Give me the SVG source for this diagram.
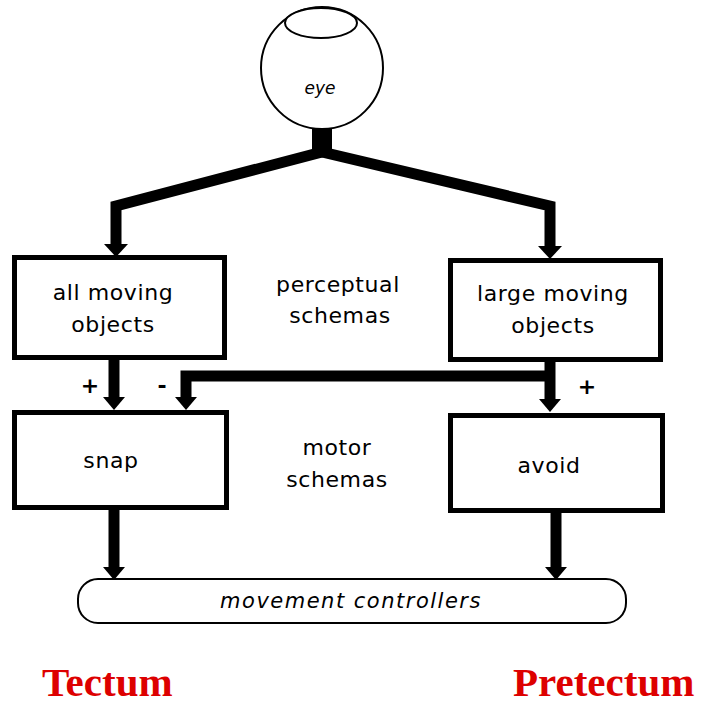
<svg xmlns="http://www.w3.org/2000/svg" width="702" height="705" viewBox="0 0 702 705">
  <style>
    .box { fill: #ffffff; stroke: #000000; stroke-width: 5; }
    .wire { fill: none; stroke: #000000; stroke-width: 11; stroke-linejoin: miter; }
    .head { fill: #000000; stroke: none; }
    .label { font-family: "DejaVu Sans", "Liberation Sans", sans-serif; font-size: 22px; fill: #000000; text-anchor: middle; letter-spacing: 0.6px; }
    .ital { font-family: "DejaVu Sans", "Liberation Sans", sans-serif; font-style: italic; fill: #000000; text-anchor: middle; }
    .sign { font-family: "DejaVu Sans", "Liberation Sans", sans-serif; font-size: 22px; font-weight: bold; fill: #000000; text-anchor: middle; }
    .region { font-family: "Liberation Serif", "Times New Roman", serif; font-size: 41px; font-weight: bold; fill: #dd0000; }
  </style>

  <!-- connectors -->
  <g id="connectors">
    <!-- fork from the eye to the perceptual schemas -->
    <rect x="312" y="124" width="20" height="30" fill="#000000"/>
    <polyline class="wire" points="322,152 116,206 116,246"/>
    <polyline class="wire" points="322,152 550,206 550,248"/>
    <polygon class="head" points="104,244 128,244 116,257"/>
    <polygon class="head" points="538,246 562,246 550,259"/>

    <!-- perceptual to motor -->
    <line class="wire" x1="114" y1="360" x2="114" y2="399"/>
    <polygon class="head" points="103,397 125,397 114,410"/>
    <line class="wire" x1="550" y1="362" x2="550" y2="401"/>
    <polygon class="head" points="539,399 561,399 550,412"/>

    <!-- inhibitory branch from large moving objects to snap -->
    <polyline class="wire" points="550,376 186,376 186,399"/>
    <polygon class="head" points="175,397 197,397 186,410"/>

    <!-- motor schemas to movement controllers -->
    <line class="wire" x1="114" y1="510" x2="114" y2="569"/>
    <polygon class="head" points="103,567 125,567 114,580"/>
    <line class="wire" x1="556" y1="513" x2="556" y2="569"/>
    <polygon class="head" points="545,567 567,567 556,580"/>

    <text class="sign" x="90" y="393">+</text>
    <text class="sign" x="162" y="393">-</text>
    <text class="sign" x="587" y="394">+</text>
  </g>

  <!-- eye -->
  <g id="eye">
    <circle cx="322" cy="68" r="61" fill="#ffffff" stroke="#000000" stroke-width="2"/>
    <ellipse cx="321" cy="23" rx="36" ry="15" fill="#ffffff" stroke="#000000" stroke-width="2"/>
    <text class="ital" x="320" y="94" font-size="17">eye</text>
  </g>

  <!-- perceptual schemas -->
  <g id="all-moving-objects">
    <rect class="box" x="14.5" y="257.5" width="210" height="100"/>
    <text class="label" x="113" y="300">all moving</text>
    <text class="label" x="113" y="332">objects</text>
  </g>
  <g id="large-moving-objects">
    <rect class="box" x="450.5" y="260.5" width="210" height="99"/>
    <text class="label" x="553" y="301">large moving</text>
    <text class="label" x="553" y="333">objects</text>
  </g>
  <g id="perceptual-label">
    <text class="label" x="338" y="292">perceptual</text>
    <text class="label" x="340" y="323">schemas</text>
  </g>

  <!-- motor schemas -->
  <g id="snap">
    <rect class="box" x="14.5" y="412.5" width="212" height="95"/>
    <text class="label" x="111" y="468">snap</text>
  </g>
  <g id="avoid">
    <rect class="box" x="450.5" y="415.5" width="212" height="95"/>
    <text class="label" x="549" y="473">avoid</text>
  </g>
  <g id="motor-label">
    <text class="label" x="337" y="455">motor</text>
    <text class="label" x="337" y="487">schemas</text>
  </g>

  <!-- movement controllers -->
  <g id="movement-controllers">
    <rect x="78" y="579" width="548" height="44" rx="20" ry="20" fill="#ffffff" stroke="#000000" stroke-width="2"/>
    <text class="ital" x="351" y="608" font-size="21" letter-spacing="1.5">movement controllers</text>
  </g>

  <!-- brain regions -->
  <g id="regions">
    <text class="region" x="42" y="696">Tectum</text>
    <text class="region" x="513" y="696">Pretectum</text>
  </g>
</svg>
